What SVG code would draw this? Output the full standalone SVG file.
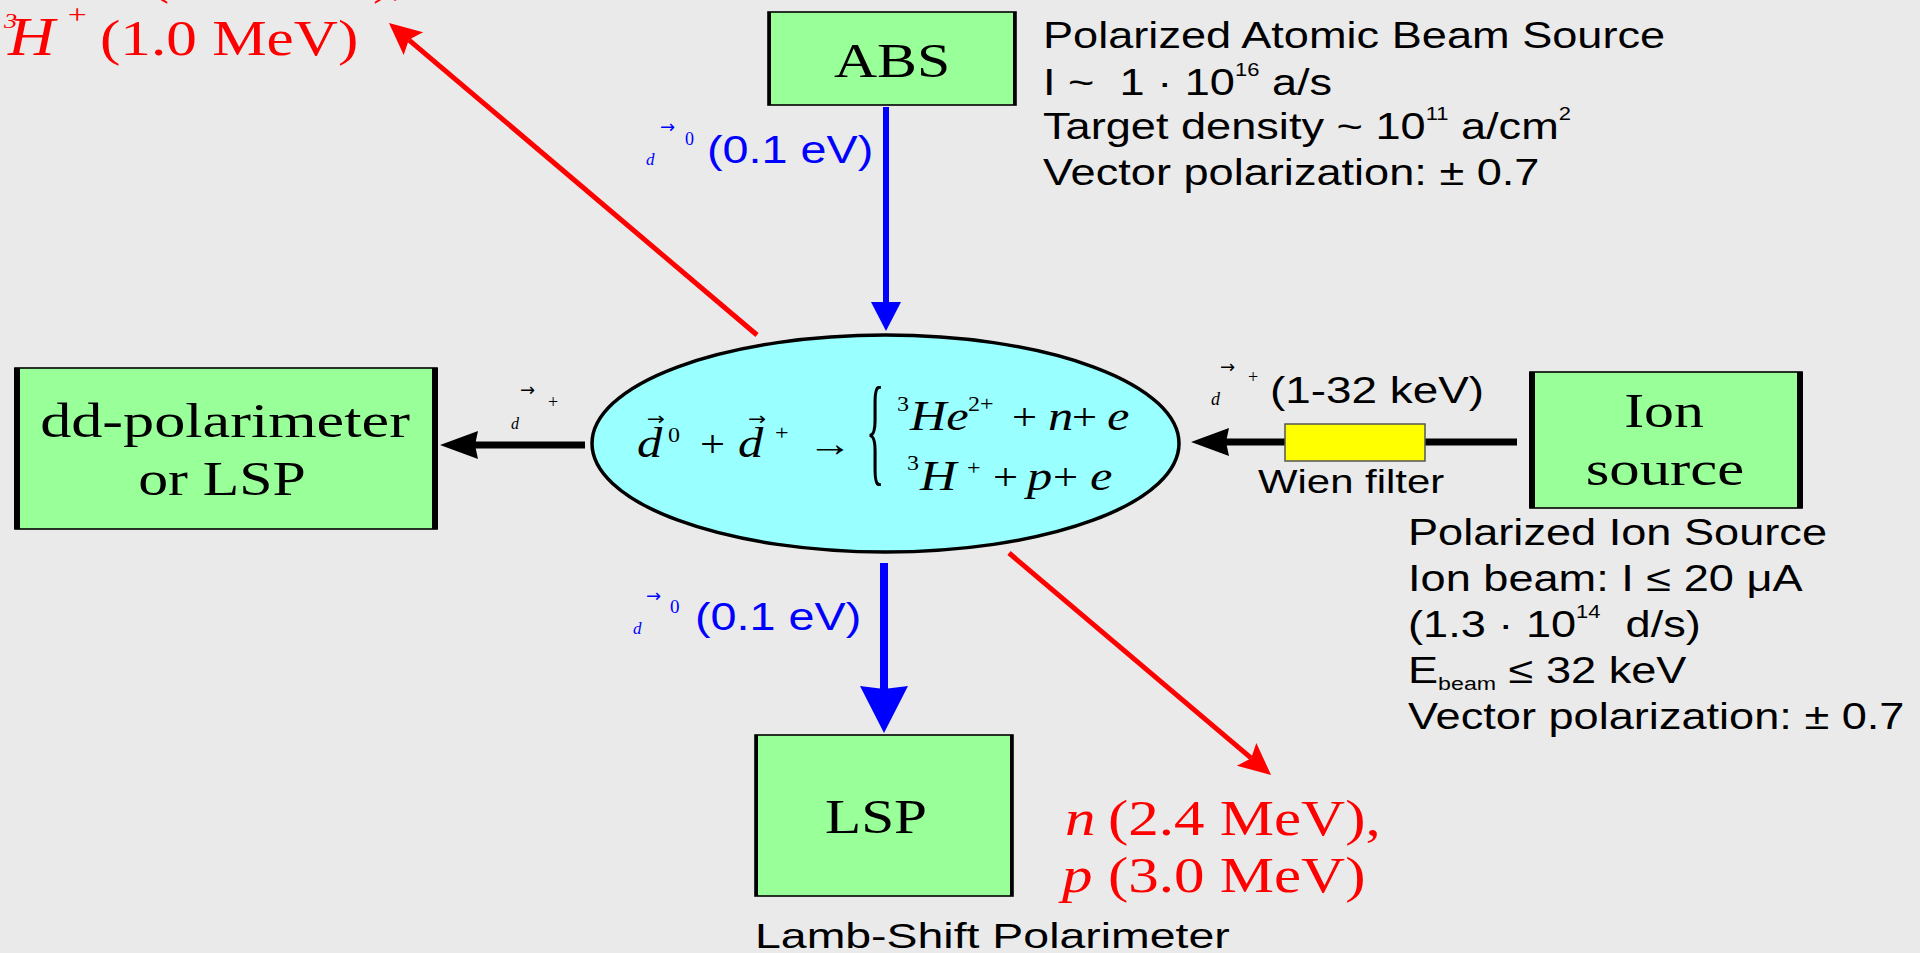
<svg xmlns="http://www.w3.org/2000/svg" width="1920" height="953" viewBox="0 0 1920 953">
<style>
.serif{font-family:"Liberation Serif","Times New Roman",serif}
.sans{font-family:"Liberation Sans",Arial,sans-serif}
.it{font-style:italic}
.box{fill:#99FF99;stroke:#000;stroke-width:1.6}
.side{stroke:#000;fill:none}
.lbl{font-size:49px;fill:#000}
.info{font-size:37px;fill:#000}
.red{fill:#FF0000}
.blue{fill:#0000FF}
.blk{fill:#000}
.eq{font-size:42px;fill:#000}
.sup{font-size:20px;font-style:normal}
.op{font-size:37px;font-style:normal}
.arr{font-family:"DejaVu Sans",sans-serif;font-size:18px}
</style>
<defs>
<marker id="ahRed" markerUnits="userSpaceOnUse" markerWidth="40" markerHeight="40" viewBox="0 -20 40 40" refX="6" refY="0" orient="auto" overflow="visible"><path d="M0,-15 L32,0 L0,15 L6,0 Z" fill="#FF0000"/></marker>
<marker id="ahBlueS" markerUnits="userSpaceOnUse" markerWidth="40" markerHeight="40" viewBox="0 -20 40 40" refX="0" refY="0" orient="auto" overflow="visible"><path d="M0,-15 L29,0 L0,15 Z" fill="#0000FF"/></marker>
<marker id="ahBlueL" markerUnits="userSpaceOnUse" markerWidth="60" markerHeight="60" viewBox="0 -30 60 60" refX="3" refY="0" orient="auto" overflow="visible"><path d="M0,-24 L47,0 L0,24 L3,0 Z" fill="#0000FF"/></marker>
<marker id="ahBlack" markerUnits="userSpaceOnUse" markerWidth="50" markerHeight="40" viewBox="0 -20 50 40" refX="3" refY="0" orient="auto" overflow="visible"><path d="M0,-14 L38,0 L0,14 L3,0 Z" fill="#000"/></marker>
</defs>
<rect width="1920" height="953" fill="#EAEAEA"/>

<g id="connectors" fill="none">
<line id="abs-to-target" x1="886" y1="107" x2="886" y2="302" stroke="#0000FF" stroke-width="6" marker-end="url(#ahBlueS)"/>
<line id="target-to-lsp" x1="884" y1="563" x2="884" y2="689" stroke="#0000FF" stroke-width="8" marker-end="url(#ahBlueL)"/>
<line id="target-to-dd" x1="585" y1="445" x2="475" y2="445" stroke="#000" stroke-width="7" marker-end="url(#ahBlack)"/>
<line id="ion-to-target" x1="1517" y1="442" x2="1226" y2="442" stroke="#000" stroke-width="7" marker-end="url(#ahBlack)"/>
<line id="target-to-3H" x1="757" y1="335" x2="408.8" y2="39.8" stroke="#FF0000" stroke-width="5" marker-end="url(#ahRed)"/>
<line id="target-to-np" x1="1009" y1="553" x2="1251.2" y2="758.2" stroke="#FF0000" stroke-width="5" marker-end="url(#ahRed)"/>
</g>

<g id="abs">
<rect class="box" x="768" y="12" width="248" height="93"/>
<path class="side" stroke-width="3" d="M769.5,12V105M1014.5,12V105"/>
<text class="serif lbl" text-anchor="middle" transform="translate(892,77) scale(1.22,1)">ABS</text>
</g>
<g id="abs-info" class="sans info">
<text transform="translate(1043,48) scale(1.22,1)">Polarized Atomic Beam Source</text>
<text xml:space="preserve" transform="translate(1043,95) scale(1.22,1)">I ~  1 · 10<tspan font-size="18" dy="-19">16</tspan><tspan dy="19"> a/s</tspan></text>
<text xml:space="preserve" transform="translate(1043,139) scale(1.22,1)">Target density ~ 10<tspan font-size="18" dy="-19">11</tspan><tspan dy="19"> a/cm</tspan><tspan font-size="18" dy="-19">2</tspan></text>
<text transform="translate(1043,185) scale(1.22,1)">Vector polarization: ± 0.7</text>
</g>

<g id="dd-polarimeter">
<rect class="box" x="15" y="368" width="422" height="161" stroke-width="2"/>
<path class="side" stroke-width="6" d="M17,368V529M435,368V529"/>
<text class="serif lbl" text-anchor="middle" transform="translate(225,437) scale(1.27,1)">dd-polarimeter</text>
<text class="serif lbl" text-anchor="middle" transform="translate(222,495) scale(1.22,1)">or LSP</text>
</g>

<g id="ion-source">
<rect class="box" x="1530" y="372" width="272" height="136" stroke-width="2.5"/>
<path class="side" stroke-width="6" d="M1532,372V508M1800,372V508"/>
<text class="serif lbl" text-anchor="middle" transform="translate(1664,427) scale(1.22,1)">Ion</text>
<text class="serif lbl" text-anchor="middle" transform="translate(1665,485) scale(1.24,1)">source</text>
</g>
<g id="ion-info" class="sans info">
<text transform="translate(1408,545) scale(1.22,1)">Polarized Ion Source</text>
<text transform="translate(1408,591) scale(1.22,1)">Ion beam: I ≤ 20 μA</text>
<text xml:space="preserve" transform="translate(1408,637) scale(1.22,1)">(1.3 · 10<tspan font-size="18" dy="-19">14</tspan><tspan dy="19">  d/s)</tspan></text>
<text xml:space="preserve" transform="translate(1408,683) scale(1.22,1)">E<tspan font-size="19" dy="7">beam</tspan><tspan dy="-7"> ≤ 32 keV</tspan></text>
<text transform="translate(1408,729) scale(1.22,1)">Vector polarization: ± 0.7</text>
</g>

<g id="lsp">
<rect class="box" x="755" y="735" width="258" height="161"/>
<path class="side" stroke-width="3" d="M756.5,735V896M1011.5,735V896"/>
<text class="serif lbl" text-anchor="middle" transform="translate(876,833) scale(1.21,1)">LSP</text>
<text class="sans" font-size="36" transform="translate(755,948) scale(1.29,1)">Lamb-Shift Polarimeter</text>
</g>

<g id="target">
<ellipse cx="885.5" cy="443.5" rx="293.5" ry="108.5" fill="#99FFFF" stroke="#000" stroke-width="3.5"/>
<g class="serif" transform="scale(1.2,1)">
<text class="eq it"><tspan x="530.8" y="457">d</tspan><tspan class="sup" x="556.7" y="442">0</tspan><tspan class="op" x="583.3" y="457">+</tspan><tspan x="615" y="457">d</tspan><tspan class="sup" x="645.8" y="440">+</tspan><tspan class="op" x="673.3" y="456">→</tspan></text>
<text class="arr blk" font-size="16"><tspan x="539" y="425">→</tspan><tspan x="623.3" y="425">→</tspan></text>
<text class="eq it"><tspan class="sup" x="747.5" y="411">3</tspan><tspan x="758.3" y="430">He</tspan><tspan class="sup" x="806.7" y="411">2+</tspan><tspan class="op" x="843.3" y="430">+</tspan><tspan x="873.3" y="430">n</tspan><tspan class="op" x="893.3" y="430">+</tspan><tspan x="922.5" y="430">e</tspan></text>
<text class="eq it"><tspan class="sup" x="755.8" y="470">3</tspan><tspan x="766.7" y="490">H</tspan><tspan class="sup" x="805.8" y="475">+</tspan><tspan class="op" x="827.5" y="490">+</tspan><tspan x="855.8" y="490">p</tspan><tspan class="op" x="877.5" y="490">+</tspan><tspan x="908.3" y="490">e</tspan></text>
</g>
<text class="serif blk" font-size="120" transform="translate(866,470) scale(0.32,1)">{</text>
</g>

<g id="wien-filter">
<rect x="1285" y="424" width="140" height="37" fill="#FFFF00" stroke="#555" stroke-width="1.5"/>
<text class="sans blk" font-size="33" transform="translate(1258,493) scale(1.27,1)">Wien filter</text>
</g>

<g id="connector-labels">
<g id="label-abs-beam" class="blue">
<text class="serif it" font-size="17" x="646" y="165">d</text>
<text class="arr" x="660" y="133">→</text>
<text class="serif" font-size="18" x="685" y="145">0</text>
<text class="sans" font-size="38" transform="translate(707,163) scale(1.23,1)">(0.1 eV)</text>
</g>
<g id="label-lsp-beam" class="blue">
<text class="serif it" font-size="17" x="633" y="634">d</text>
<text class="arr" x="646" y="602">→</text>
<text class="serif" font-size="19" x="670" y="613">0</text>
<text class="sans" font-size="38" transform="translate(695,630) scale(1.23,1)">(0.1 eV)</text>
</g>
<g id="label-dd-beam" class="blk">
<text class="serif it" font-size="16" x="511" y="429">d</text>
<text class="arr" x="520" y="396">→</text>
<text class="serif" font-size="18" x="548" y="408">+</text>
</g>
<g id="label-ion-beam" class="blk">
<text class="serif it" font-size="18" x="1211" y="405">d</text>
<text class="arr" x="1220" y="373">→</text>
<text class="serif" font-size="18" x="1248" y="383">+</text>
<text class="sans" font-size="37" transform="translate(1270,403) scale(1.24,1)">(1-32 keV)</text>
</g>
<g id="label-3He-3H" class="serif red">
<text transform="translate(0,-7) scale(1.124,1)"><tspan class="it" x="3" y="-27" font-size="22">3</tspan><tspan class="it" x="7" y="0" font-size="51">He</tspan><tspan x="70" y="-30" font-size="26">2+</tspan><tspan x="133.5" y="0" font-size="51">(0.8 MeV),</tspan></text>
<text transform="translate(0,55) scale(1.2,1)"><tspan class="it" x="3.3" y="-27" font-size="22">3</tspan><tspan class="it" x="6.7" y="0" font-size="54">H</tspan><tspan x="56.5" y="-31" font-size="28">+</tspan><tspan x="83.3" y="0" font-size="51">(1.0 MeV)</tspan></text>
</g>
<g id="label-n-p" class="serif red" font-size="50">
<text transform="translate(0,835) scale(1.22,1)"><tspan class="it" x="873">n</tspan><tspan x="908.2">(2.4 MeV),</tspan></text>
<text transform="translate(0,892) scale(1.22,1)"><tspan class="it" x="870.5">p</tspan><tspan x="908.2">(3.0 MeV)</tspan></text>
</g>
</g>
</svg>
